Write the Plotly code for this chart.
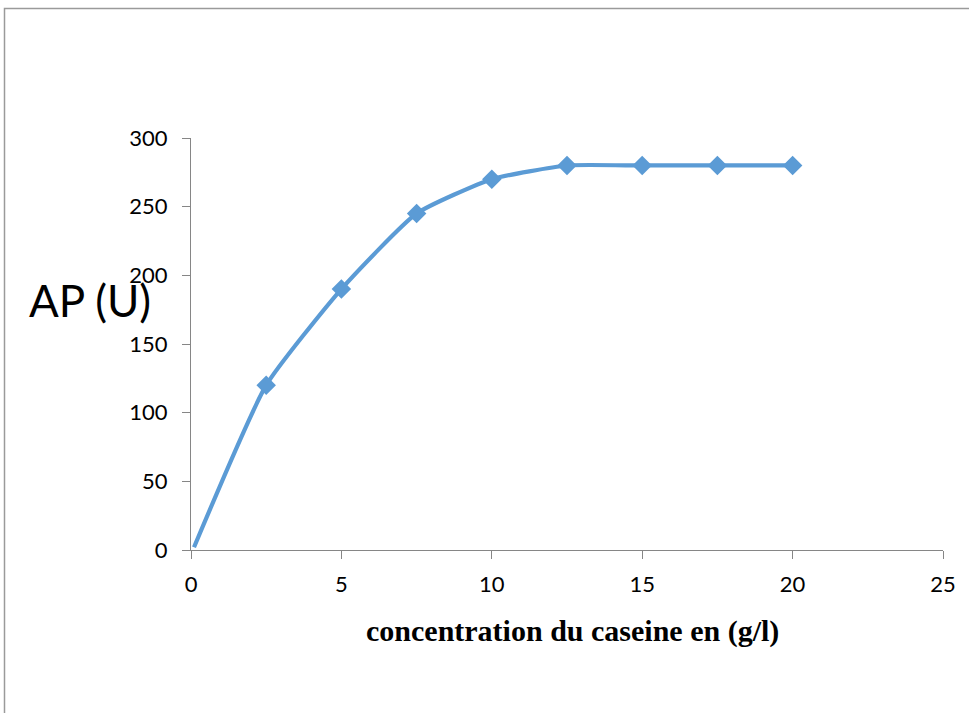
import plotly.graph_objects as go

# Casein concentration (g/l) and activity AP (U)
concentration = [0.1, 2.5, 5, 7.5, 10, 12.5, 15, 17.5, 20]
activity = [2, 120, 190, 245, 270, 280, 280, 280, 280]
marker_sizes = [0, 15, 15, 15, 15, 15, 15, 15, 15]

x_ticks = [0, 5, 10, 15, 20, 25]
y_ticks = [0, 50, 100, 150, 200, 250, 300]

W, H = 969, 713
left, right, top, bottom = 191, 943, 138, 550

fig = go.Figure()
fig.add_trace(go.Scatter(
    x=concentration, y=activity,
    mode="lines+markers",
    line=dict(color="#5B9BD5", width=4.2, shape="spline", smoothing=0.5),
    marker=dict(symbol="diamond", size=marker_sizes, color="#5B9BD5",
                opacity=1, line=dict(width=0)),
    showlegend=False,
    hoverinfo="skip",
))

axis_common = dict(
    showgrid=False, zeroline=False, showline=True,
    linecolor="#868686", linewidth=1.3,
    ticks="outside", ticklen=8, tickcolor="#868686", tickwidth=1.3,
    tickfont=dict(family="Lato, Open Sans, sans-serif", size=22, color="#000"),
)

fig.update_xaxes(range=[0, 25], tickvals=x_ticks, ticklabelstandoff=6, **axis_common)
fig.update_yaxes(range=[0, 300], tickvals=y_ticks, ticklabelstandoff=10, **axis_common)

pw = right - left
ph = bottom - top

def px(x):
    return (x - left) / pw

def py(y):
    return (bottom - y) / ph

fig.update_layout(
    width=W, height=H,
    margin=dict(l=left, r=W - right, t=top, b=H - bottom, pad=0),
    paper_bgcolor="white", plot_bgcolor="white",
    shapes=[dict(
        type="rect", xref="paper", yref="paper",
        x0=px(4.5), x1=px(980), y0=py(725), y1=py(8.5),
        line=dict(color="#9A9A9A", width=1.5), fillcolor="rgba(0,0,0,0)",
        layer="below",
    )],
    annotations=[
        dict(text="AP (U)", xref="paper", yref="paper",
             x=px(90), y=py(300), xanchor="center", yanchor="middle",
             showarrow=False,
             font=dict(family="Lato, Open Sans, sans-serif", size=44, color="#000")),
        dict(text="<b>concentration du caseine en (g/l)</b>", xref="paper", yref="paper",
             x=px(572), y=py(631), xanchor="center", yanchor="middle",
             showarrow=False,
             font=dict(family="Liberation Serif, Times New Roman, serif", size=30, color="#000")),
    ],
)

fig.write_html("out.html")
